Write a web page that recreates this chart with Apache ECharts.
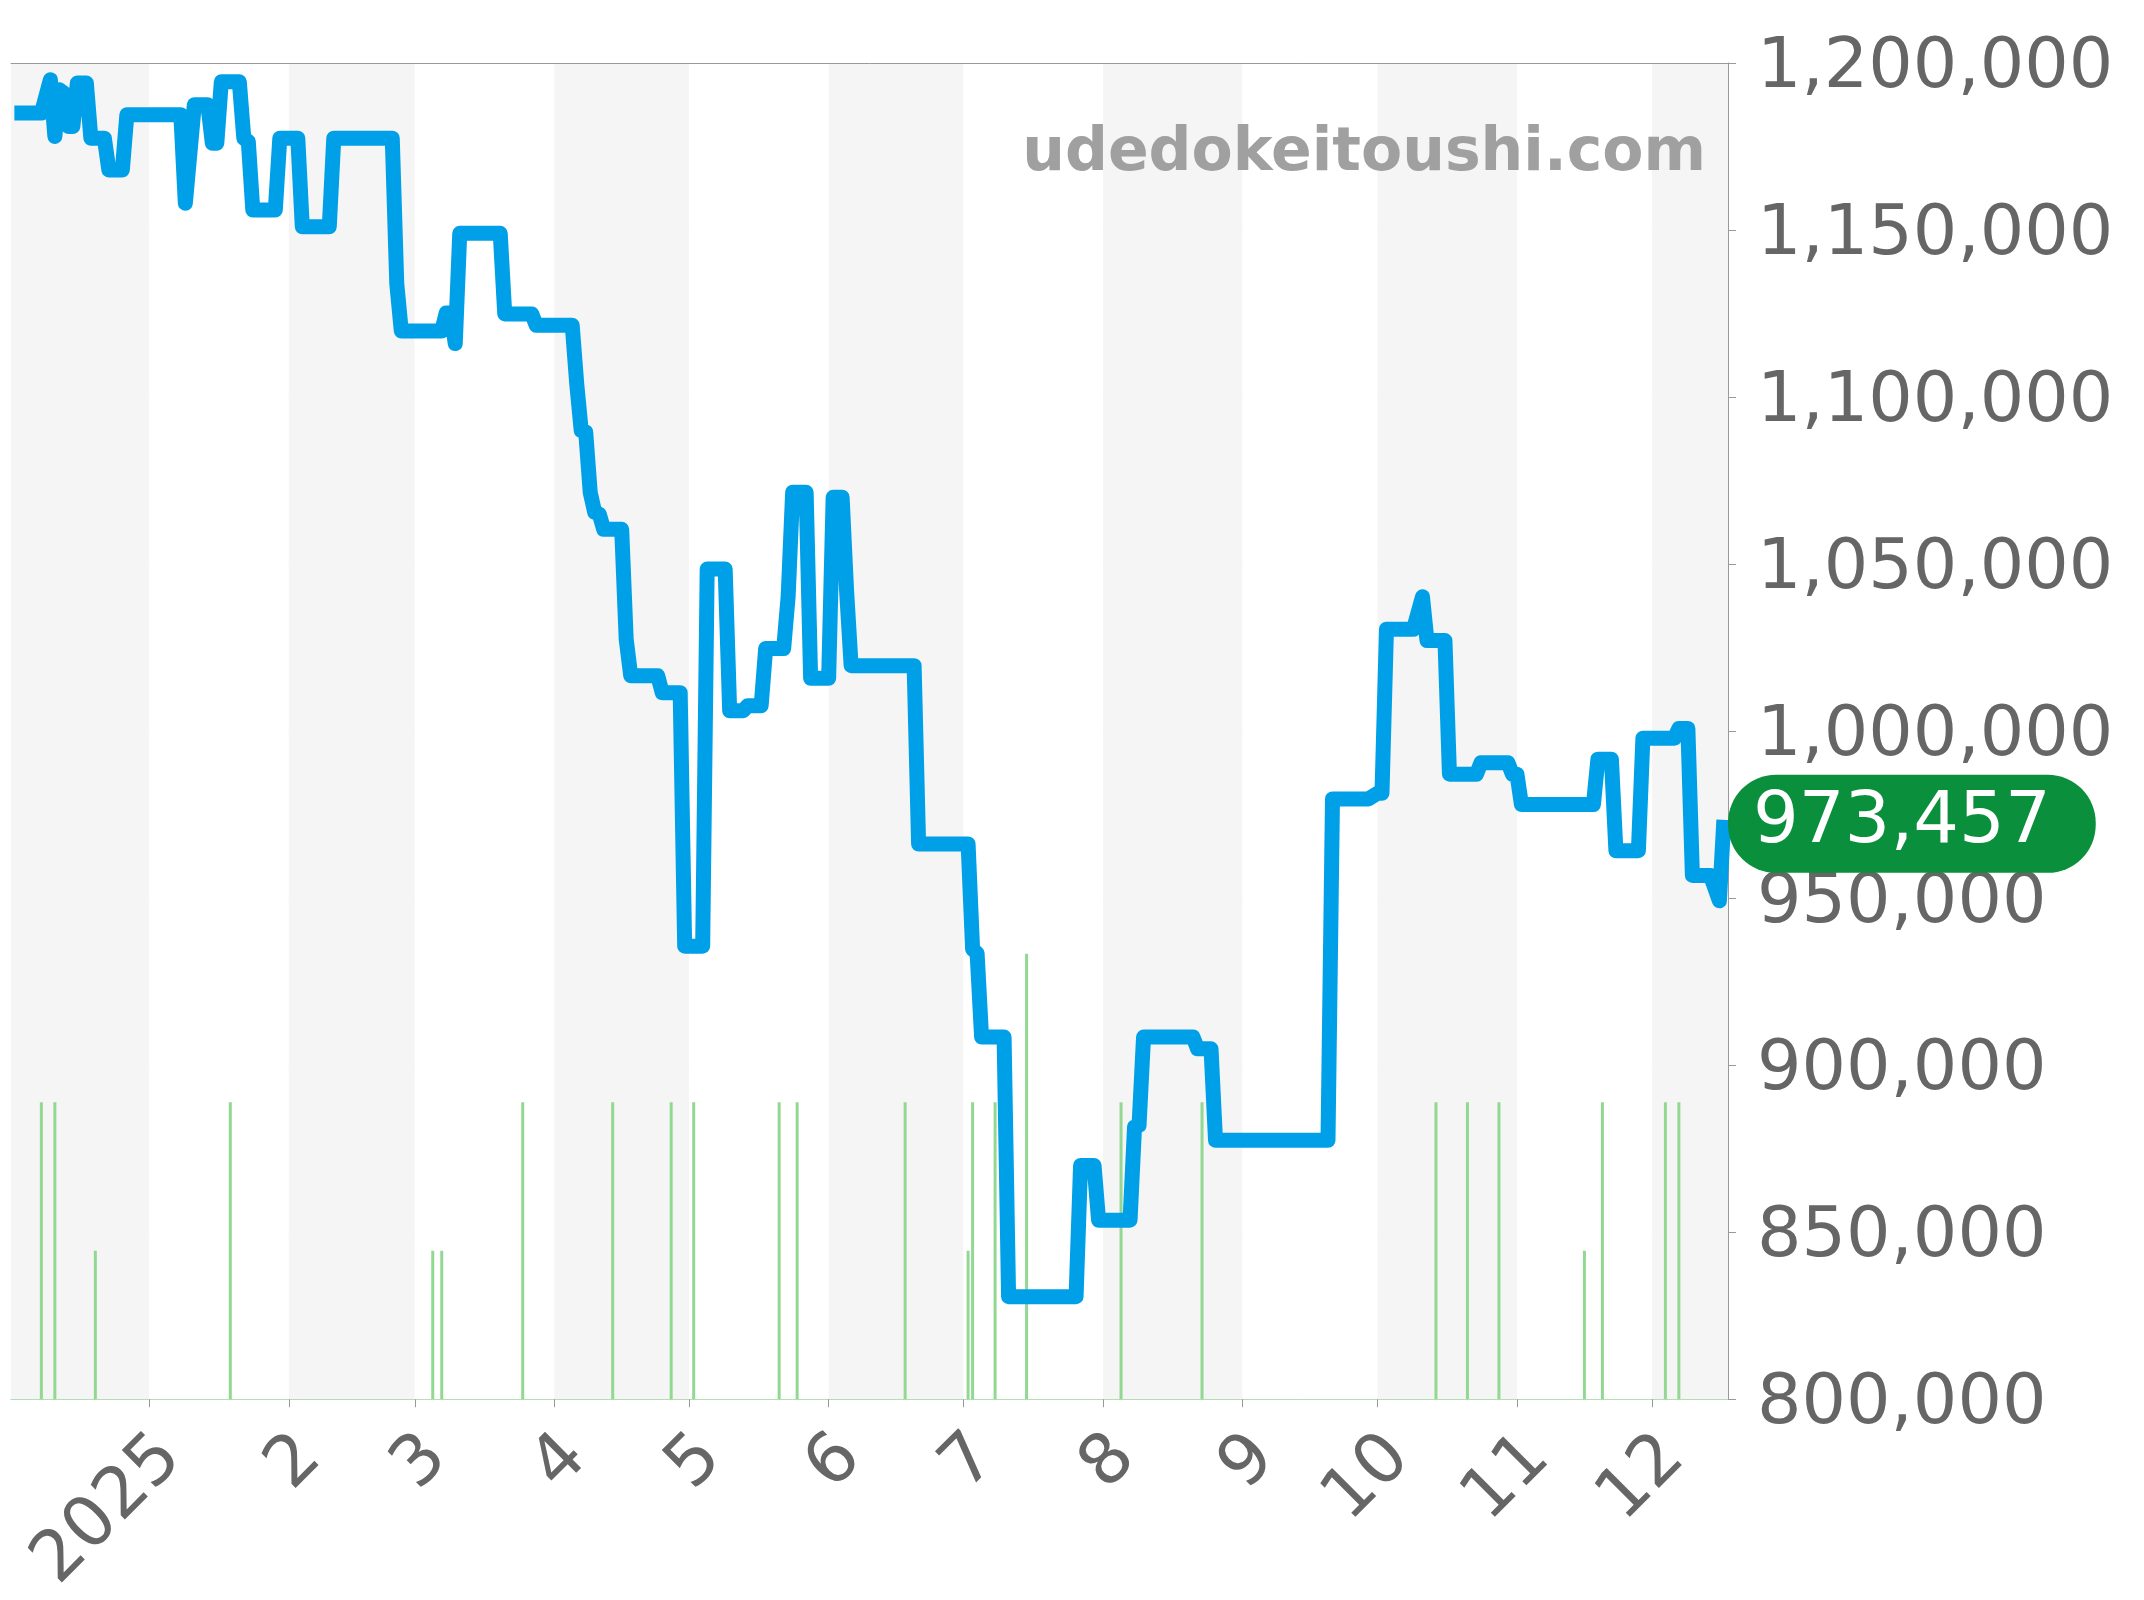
<!DOCTYPE html>
<html>
<head>
<meta charset="utf-8">
<script src="https://cdn.jsdelivr.net/npm/echarts@6/dist/echarts.min.js"></script>
<style>
  html, body { margin: 0; padding: 0; background: #ffffff; }
  #chart { width: 2144px; height: 1600px; }
</style>
</head>
<body>
<div id="chart"></div>
<script>
// ---- Price line (date of each change point, price in JPY) ----
const priceDates = [
  '2024-12-02','2024-12-08','2024-12-10','2024-12-11','2024-12-12','2024-12-13','2024-12-14','2024-12-15',
  '2024-12-16','2024-12-18','2024-12-19','2024-12-22','2024-12-23','2024-12-26','2024-12-27',
  '2025-01-08','2025-01-09','2025-01-11','2025-01-14','2025-01-15','2025-01-16','2025-01-17','2025-01-21',
  '2025-01-22','2025-01-23','2025-01-24','2025-01-29','2025-01-30','2025-02-03','2025-02-04','2025-02-10',
  '2025-02-11','2025-02-24','2025-02-25','2025-02-26','2025-03-07','2025-03-08','2025-03-09','2025-03-10',
  '2025-03-11','2025-03-20','2025-03-21','2025-03-27','2025-03-28','2025-04-05','2025-04-06','2025-04-07',
  '2025-04-08','2025-04-09','2025-04-10','2025-04-11','2025-04-12','2025-04-16','2025-04-17','2025-04-18',
  '2025-04-24','2025-04-25','2025-04-29','2025-04-30','2025-05-04','2025-05-05','2025-05-09','2025-05-10',
  '2025-05-13','2025-05-14','2025-05-17','2025-05-18','2025-05-22','2025-05-23','2025-05-24','2025-05-27',
  '2025-05-28','2025-06-01','2025-06-02','2025-06-04','2025-06-05','2025-06-06','2025-06-20','2025-06-21',
  '2025-07-02','2025-07-03','2025-07-04','2025-07-05','2025-07-10','2025-07-11','2025-07-26','2025-07-27',
  '2025-07-30','2025-07-31','2025-08-07','2025-08-08','2025-08-09','2025-08-10','2025-08-21','2025-08-22',
  '2025-08-25','2025-08-26','2025-09-20','2025-09-21','2025-09-29','2025-10-01','2025-10-02','2025-10-03',
  '2025-10-09','2025-10-11','2025-10-12','2025-10-16','2025-10-17','2025-10-23','2025-10-24','2025-10-30',
  '2025-10-31','2025-11-01','2025-11-02','2025-11-18','2025-11-19','2025-11-22','2025-11-23','2025-11-28',
  '2025-11-29','2025-12-06','2025-12-07','2025-12-09','2025-12-10','2025-12-14','2025-12-16','2025-12-17'
];
const prices = [
  1185000,1185000,1195000,1178000,1192000,1191000,1181000,1181000,
  1194000,1194000,1177500,1177500,1168000,1168000,1184500,
  1184500,1158000,1187500,1187500,1176000,1176000,1194400,1194400,
  1177500,1176500,1156000,1156000,1177500,1177500,1151000,1151000,
  1177500,1177500,1134000,1119800,1119800,1125200,1125200,1116000,
  1149000,1149000,1124900,1124900,1121500,1121500,1104000,1090000,
  1089500,1071500,1065500,1065000,1060400,1060400,1027500,1016600,
  1016600,1011500,1011500,935600,935600,1048500,1048500,1006100,
  1006100,1007600,1007600,1024700,1024700,1040300,1071500,1071500,
  1015800,1015800,1070000,1070000,1041800,1019600,1019600,966200,
  966200,934700,933500,908400,908400,830700,830700,870000,
  870000,853600,853600,881500,882000,908400,908400,904900,
  904900,877500,877500,979700,979700,981400,981400,1030500,
  1030500,1040200,1027100,1027100,987100,987100,990500,990500,
  987100,987100,978000,978000,991600,991600,964200,964200,
  997900,997900,1000800,1000800,956800,956800,949200,973457
];

// ---- Listing counts (green bars) ----
const countDates = [
  '2024-12-08','2024-12-11','2024-12-20','2025-01-19','2025-03-05','2025-03-07','2025-03-25',
  '2025-04-14','2025-04-27','2025-05-02','2025-05-21','2025-05-25','2025-06-18','2025-07-02',
  '2025-07-03','2025-07-08','2025-07-15','2025-08-05','2025-08-23','2025-10-14','2025-10-21',
  '2025-10-28','2025-11-16','2025-11-20','2025-12-04','2025-12-07'
];
const counts = [
  2,2,1,2,1,1,2,
  2,2,2,2,2,2,1,
  2,2,3,2,2,2,2,
  2,1,2,2,2
];

// ---- Axis settings ----
const xMin = '2024-12-01 14:00:00';
const xMax = '2025-12-17 14:00:00';
const yMin = 800000, yMax = 1200000, yStep = 50000;
const countMax = 9;
const watermark = 'udedokeitoushi.com';

const lastPrice = prices[prices.length - 1];
const lineData = priceDates.map((d, i) => [d, prices[i]]);
const barData = countDates.map((d, i) => [d, counts[i]]);

const FONT = "'DejaVu Sans', sans-serif";
const chart = echarts.init(document.getElementById('chart'), null, { renderer: 'canvas' });

chart.setOption({
  animation: false,
  backgroundColor: '#ffffff',
  title: {
    text: watermark,
    right: 433,
    top: 119,
    textStyle: { fontFamily: FONT, fontSize: 60, fontWeight: 'bold', color: '#a0a0a0' }
  },
  grid: { left: 11, right: 416, top: 63, bottom: 197, containLabel: false },
  xAxis: [{
    type: 'time',
    min: xMin,
    max: xMax,
    splitNumber: 12,
    minInterval: 28 * 86400000,
    maxInterval: 31 * 86400000,
    axisLine: { show: true, onZero: false, lineStyle: { color: '#a8dca8', type: 'dotted', width: 1 } },
    axisTick: { show: true, length: 8, lineStyle: { color: '#999999' } },
    splitLine: { show: false },
    splitArea: { show: true, areaStyle: { color: ['#f5f5f5', '#ffffff'] } },
    axisLabel: {
      rotate: 45,
      margin: 26,
      fontSize: 70,
      fontFamily: FONT,
      color: '#666666',
      verticalAlign: 'top',
      lineHeight: 62,
      formatter: function (value) {
        const d = new Date(value);
        if (d.getDate() !== 1 || d.getHours() !== 0 || d.getMinutes() !== 0) return '';
        return d.getMonth() === 0 ? String(d.getFullYear()) : String(d.getMonth() + 1);
      }
    }
  }, {
    type: 'time',
    position: 'top',
    min: xMin,
    max: xMax,
    axisLine: { show: true, onZero: false, lineStyle: { color: '#999999', width: 1 } },
    axisTick: { show: false },
    axisLabel: { show: false },
    splitLine: { show: false },
    splitArea: { show: false }
  }],
  yAxis: [{
    type: 'value',
    position: 'right',
    min: yMin,
    max: yMax,
    interval: yStep,
    axisLine: { show: true, lineStyle: { color: '#999999', width: 1 } },
    axisTick: { show: true, length: 8, lineStyle: { color: '#999999' } },
    splitLine: { show: true, lineStyle: { color: '#e4e4e4', width: 1 } },
    axisLabel: {
      margin: 29,
      fontSize: 70,
      fontFamily: FONT,
      color: '#666666',
      verticalAlign: 'top',
      lineHeight: 12,
      formatter: v => v.toLocaleString('en-US')
    }
  }, {
    type: 'value',
    min: 0,
    max: countMax,
    show: false,
    splitLine: { show: false }
  }],
  series: [{
    name: 'count',
    type: 'bar',
    xAxisIndex: 0,
    yAxisIndex: 1,
    data: barData,
    barWidth: 3,
    itemStyle: { color: '#92d892' },
    silent: true,
    z: 2
  }, {
    name: 'price',
    type: 'line',
    xAxisIndex: 0,
    yAxisIndex: 0,
    data: lineData,
    showSymbol: false,
    symbol: 'none',
    lineStyle: { color: '#00a0e8', width: 15, join: 'round', cap: 'butt' },
    silent: true,
    z: 3,
    markLine: {
      silent: true,
      symbol: ['none', 'none'],
      lineStyle: { color: 'rgba(0,0,0,0)', width: 0, type: 'solid' },
      label: {
        show: true,
        position: 'end',
        distance: 0,
        offset: [0, 4],
        formatter: () => lastPrice.toLocaleString('en-US'),
        color: '#ffffff',
        fontSize: 72,
        fontFamily: FONT,
        backgroundColor: '#0a8f3c',
        borderRadius: 48,
        padding: [13, 45, 13, 25]
      },
      data: [{ yAxis: lastPrice }]
    }
  }]
});
</script>
</body>
</html>
